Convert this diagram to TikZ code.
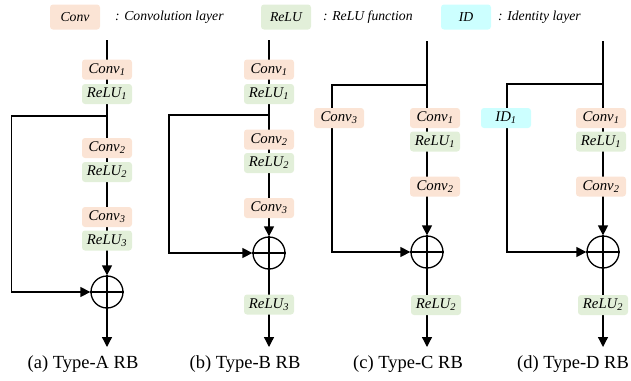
\documentclass[tikz,border=0pt]{standalone}
\usepackage{fontspec}
\setmainfont{Liberation Serif}
\usetikzlibrary{arrows.meta,backgrounds}
\definecolor{convc}{HTML}{FBE4D5}
\definecolor{reluc}{HTML}{E2EFD9}
\definecolor{idc}{HTML}{CCFFFF}
\tikzset{
  x=1pt,y=-1pt,
  box/.style={rounded corners=3pt,minimum width=50pt,minimum height=20pt,inner sep=0pt,font=\itshape\fontsize{14.8}{14.8}\selectfont},
  convbox/.style={box,fill=convc},
  relubox/.style={box,fill=reluc},
  idbox/.style={box,fill=idc},
  legbox/.style={rounded corners=3pt,minimum width=50pt,minimum height=25pt,inner sep=0pt,font=\itshape\fontsize{13.7}{13.7}\selectfont},
  legtext/.style={anchor=west,inner sep=0pt,font=\itshape\fontsize{13.7}{13.7}\selectfont},
  sumnode/.style={circle,draw,line width=1.3pt,minimum size=32pt,inner sep=0pt},
  conn/.style={line width=1.3pt},
  arr/.style={conn,-{Triangle[length=10pt,width=10pt]}},
  captext/.style={inner sep=0pt,font=\fontsize{18.5}{18.5}\selectfont},
}
\begin{document}
\begin{tikzpicture}
\useasboundingbox (0,0) rectangle (631,380);
% legend
\node[legbox,fill=convc] (lc) at (75,17) {Conv};
\node[legtext] (lct) at (115,17) {: Convolution layer};
\node[legbox,fill=reluc] (lr) at (286,17) {ReLU};
\node[legtext] (lrt) at (323,17) {: ReLU function};
\node[legbox,fill=idc] (li) at (466,17) {ID};
\node[legtext] (lit) at (498,17) {: Identity layer};

% ---------- (a)
\coordinate (a0) at (107,40);
\coordinate (ab) at (107,116);
\coordinate (al) at (11.5,116);
\coordinate (ae) at (107,347);
\node[convbox] (a1) at (107,69.5) {Conv\textsubscript{1}};
\node[relubox] (a2) at (107,94) {ReLU\textsubscript{1}};
\node[convbox] (a3) at (107,148) {Conv\textsubscript{2}};
\node[relubox] (a4) at (107,172) {ReLU\textsubscript{2}};
\node[convbox] (a5) at (107,217) {Conv\textsubscript{3}};
\node[relubox] (a6) at (107,240.5) {ReLU\textsubscript{3}};
\node[sumnode] (ap) at (107,292) {};
\node[captext] (acap) at (83,364) {(a) Type-A RB};
\begin{scope}[on background layer]
\draw[arr] (a0) -- (ap);
\draw[arr] (ap) -- (ae);
\draw[arr] (ab) -- (al) |- (ap);
\end{scope}
\draw[conn] (ap.north) -- (ap.south) (ap.west) -- (ap.east);

% ---------- (b)
\coordinate (b0) at (269,40);
\coordinate (bb) at (269,115);
\coordinate (bl) at (169,115);
\coordinate (be) at (269,347);
\node[convbox] (b1) at (269,69.5) {Conv\textsubscript{1}};
\node[relubox] (b2) at (269,94) {ReLU\textsubscript{1}};
\node[convbox] (b3) at (269,139.5) {Conv\textsubscript{2}};
\node[relubox] (b4) at (269,163) {ReLU\textsubscript{2}};
\node[convbox] (b5) at (269,208) {Conv\textsubscript{3}};
\node[sumnode] (bp) at (269,253) {};
\node[relubox] (b6) at (269,304.5) {ReLU\textsubscript{3}};
\node[captext] (bcap) at (245,364) {(b) Type-B RB};
\begin{scope}[on background layer]
\draw[arr] (b0) -- (bp);
\draw[arr] (bp) -- (be);
\draw[arr] (bb) -- (bl) |- (bp);
\end{scope}
\draw[conn] (bp.north) -- (bp.south) (bp.west) -- (bp.east);

% ---------- (c)
\coordinate (c0) at (427,41);
\coordinate (cb) at (427,85);
\coordinate (cl) at (332,85);
\coordinate (ce) at (427,347);
\node[convbox] (c4) at (339,118) {Conv\textsubscript{3}};
\node[convbox] (c1) at (435,118) {Conv\textsubscript{1}};
\node[relubox] (c2) at (435,141.5) {ReLU\textsubscript{1}};
\node[convbox] (c3) at (435,186.5) {Conv\textsubscript{2}};
\node[sumnode] (cp) at (427,252) {};
\node[relubox] (c5) at (436,305) {ReLU\textsubscript{2}};
\node[captext] (ccap) at (408,364) {(c) Type-C RB};
\begin{scope}[on background layer]
\draw[arr] (c0) -- (cp);
\draw[arr] (cp) -- (ce);
\draw[arr] (cb) -- (cl) |- (cp);
\end{scope}
\draw[conn] (cp.north) -- (cp.south) (cp.west) -- (cp.east);

% ---------- (d)
\coordinate (d0) at (603,41);
\coordinate (db) at (603,84);
\coordinate (dl) at (507,84);
\coordinate (de) at (603,347);
\node[idbox] (d4) at (506,118) {ID\textsubscript{1}};
\node[convbox] (d1) at (601,118) {Conv\textsubscript{1}};
\node[relubox] (d2) at (601,141.5) {ReLU\textsubscript{1}};
\node[convbox] (d3) at (601,186.5) {Conv\textsubscript{2}};
\node[sumnode] (dp) at (603,252) {};
\node[relubox] (d5) at (603,305) {ReLU\textsubscript{2}};
\node[captext] (dcap) at (573,364) {(d) Type-D RB};
\begin{scope}[on background layer]
\draw[arr] (d0) -- (dp);
\draw[arr] (dp) -- (de);
\draw[arr] (db) -- (dl) |- (dp);
\end{scope}
\draw[conn] (dp.north) -- (dp.south) (dp.west) -- (dp.east);
\end{tikzpicture}
\end{document}
